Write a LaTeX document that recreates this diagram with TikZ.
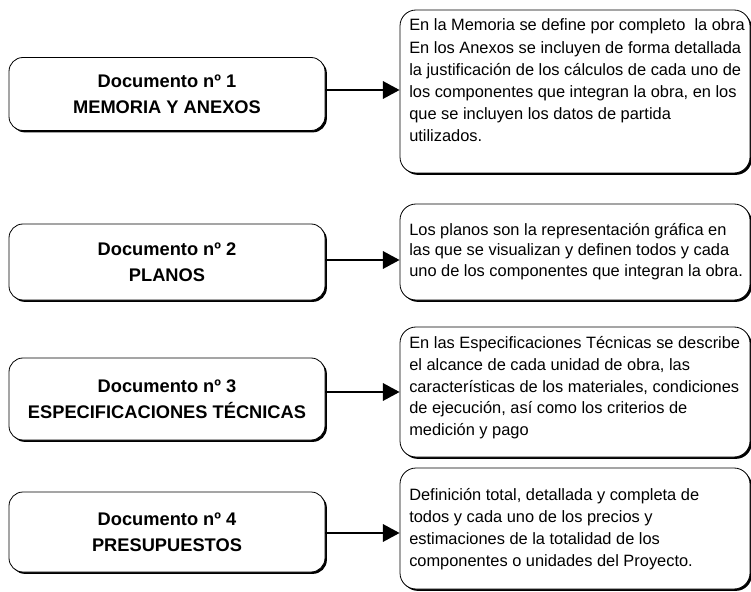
\documentclass[tikz,border=0pt]{standalone}
\usepackage{fontspec}
\setmainfont{Liberation Sans}
\usetikzlibrary{arrows.meta,shadows,calc}
\tikzset{
  boxshadow/.style={drop shadow={shadow xshift=1.4pt,shadow yshift=-1.4pt,fill=black,opacity=1}},
  lbox/.style={draw=black,line width=0.6pt,fill=white,rounded corners=10.5pt,boxshadow,
    minimum width=316*0.75pt,align=center,inner sep=0pt,
    font=\fontsize{13.7}{19.5}\selectfont\bfseries},
  rbox/.style={draw=black,line width=0.6pt,fill=white,rounded corners=12pt,boxshadow,
    minimum width=350*0.75pt,inner sep=0pt},
  rtext/.style={anchor=base west,inner sep=0pt},
  link/.style={line width=1.7pt,-{Triangle[length=12.5pt,width=13pt]}},
}
\newcommand{\rpar}[2]{\parbox[t]{255pt}{\fontsize{12.3}{#1}\selectfont\raggedright #2}}
\begin{document}
\begin{tikzpicture}[x=0.75pt,y=-0.75pt]
\useasboundingbox (0,0) rectangle (751,592);
% left boxes
\node[lbox,minimum height=73*0.75pt] (L1) at (167,94) {Documento nº 1\\MEMORIA Y ANEXOS};
\node[lbox,minimum height=76*0.75pt] (L2) at (167,262) {Documento nº 2\\PLANOS};
\node[lbox,minimum height=82*0.75pt] (L3) at (167,399) {Documento nº 3\\ESPECIFICACIONES TÉCNICAS};
\node[lbox,minimum height=80*0.75pt] (L4) at (167,532) {Documento nº 4\\PRESUPUESTOS};
% right boxes
\node[rbox,minimum height=163*0.75pt] (R1) at (575,91.5) {};
\node[rbox,minimum height=96*0.75pt] (R2) at (575,252) {};
\node[rbox,minimum height=130*0.75pt] (R3) at (575,392) {};
\node[rbox,minimum height=121*0.75pt] (R4) at (575,528.5) {};
% texts
\node[rtext] (T1) at (409,31) {\rpar{16.65}{En la Memoria se define por completo \ la obra\\
En los Anexos se incluyen de forma detallada\\
la justificación de los cálculos de cada uno de\\
los componentes que integran la obra, en los\\
que se incluyen los datos de partida\\
utilizados.}};
\node[rtext] (T2) at (409,235) {\rpar{15.6}{Los planos son la representación gráfica en\\
las que se visualizan y definen todos y cada\\
uno de los componentes que integran la obra.}};
\node[rtext] (T3) at (409,349) {\rpar{16.2}{En las Especificaciones Técnicas se describe\\
el alcance de cada unidad de obra, las\\
características de los materiales, condiciones\\
de ejecución, así como los criterios de\\
medición y pago}};
\node[rtext] (T4) at (409,500) {\rpar{16.7}{Definición total, detallada y completa de\\
todos y cada uno de los precios y\\
estimaciones de la totalidad de los\\
componentes o unidades del Proyecto.}};
% connectors
\draw[link] ($(L1.east)+(0,-4)$) -- ($(L1.east -| R1.west)+(0,-4)$);
\draw[link] ($(L2.east)+(0,-2)$) -- ($(L2.east -| R2.west)+(0,-2)$);
\draw[link] ($(L3.east)+(0,-7)$) -- ($(L3.east -| R3.west)+(0,-7)$);
\draw[link] ($(L4.east)+(0,1)$) -- ($(L4.east -| R4.west)+(0,1)$);
\end{tikzpicture}
\end{document}
